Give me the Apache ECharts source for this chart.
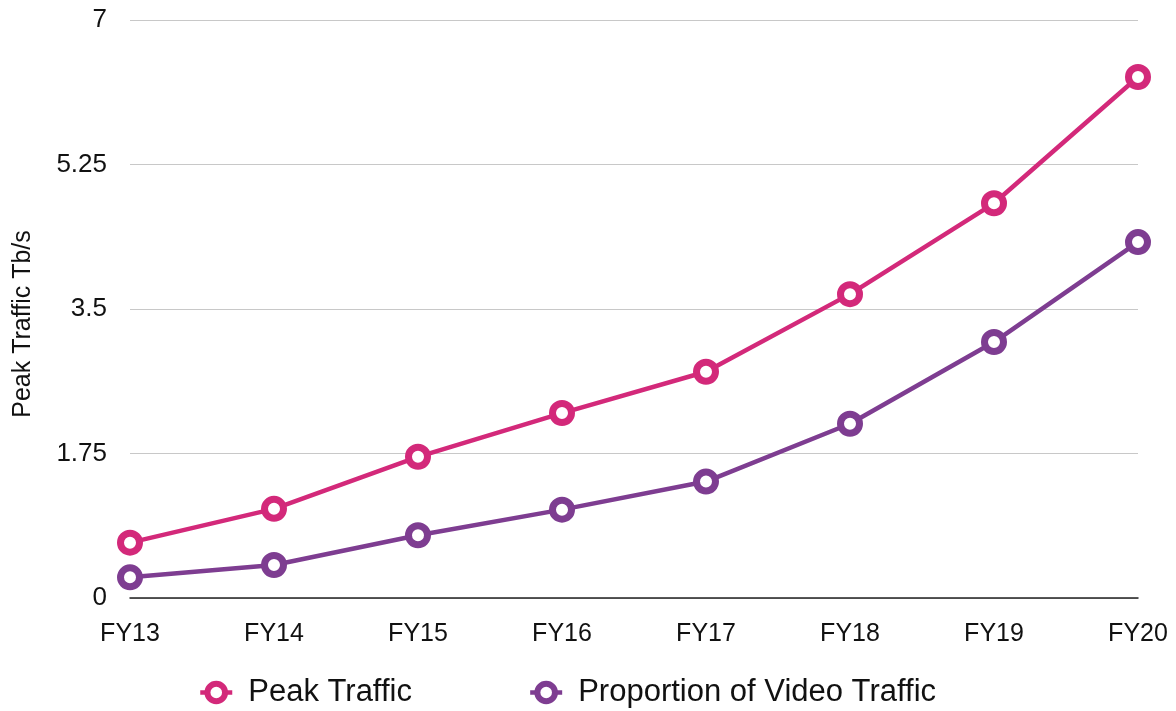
<!DOCTYPE html>
<html>
<head>
<meta charset="utf-8">
<script src="https://cdn.jsdelivr.net/npm/echarts@6/dist/echarts.min.js"></script>
<style>
  html, body { margin: 0; padding: 0; background: #ffffff; }
  #chart { width: 1176px; height: 711px; }
</style>
</head>
<body>
<div id="chart"></div>
<script>
// Fiscal years on the category axis
const years = ['FY13', 'FY14', 'FY15', 'FY16', 'FY17', 'FY18', 'FY19', 'FY20'];

// Peak traffic, Tb/s
const peakTraffic = [0.67, 1.08, 1.71, 2.24, 2.74, 3.68, 4.78, 6.31];

// Share of that peak carried as video, Tb/s
const videoTraffic = [0.25, 0.40, 0.76, 1.07, 1.41, 2.11, 3.10, 4.31];

const PINK = '#d3297a';
const PURPLE = '#7e3d91';
const FONT = '"Liberation Sans", Helvetica, Arial, sans-serif';

function lineSeries(name, data, color) {
  return {
    name: name,
    type: 'line',
    data: data,
    symbol: 'circle',
    symbolSize: 19,
    lineStyle: { width: 4.5, color: color },
    itemStyle: { color: '#ffffff', borderColor: color, borderWidth: 7 },
    emphasis: { disabled: true },
    z: 3
  };
}

const chart = echarts.init(document.getElementById('chart'), null, { renderer: 'canvas' });
chart.setOption({
  animation: false,
  backgroundColor: '#ffffff',
  textStyle: { fontFamily: FONT },
  grid: {
    left: 130, right: 38, top: 20, bottom: 113,
    containLabel: false,
    outerBoundsMode: 'none'
  },
  legend: {
    top: 672,
    left: 193,
    itemGap: 116,
    itemWidth: 32,
    itemHeight: 22,
    itemStyle: { borderWidth: 6 },
    lineStyle: { width: 4.5 },
    textStyle: { fontSize: 31, color: '#111111', fontFamily: FONT, padding: [0, 0, 0, 11] },
    data: ['Peak Traffic', 'Proportion of Video Traffic']
  },
  xAxis: {
    type: 'category',
    data: years,
    boundaryGap: false,
    axisLine: { lineStyle: { color: '#222222', width: 1.5 } },
    axisTick: { show: false },
    axisLabel: { fontSize: 25, color: '#111111', margin: 24, fontFamily: FONT }
  },
  yAxis: {
    type: 'value',
    min: 0,
    max: 7,
    interval: 1.75,
    name: 'Peak Traffic Tb/s',
    nameLocation: 'middle',
    nameGap: 94,
    nameRotate: 90,
    nameTextStyle: { fontSize: 25, color: '#111111', fontFamily: FONT, padding: [0, 30, 0, 0] },
    axisLine: { show: false },
    axisTick: { show: false },
    axisLabel: { fontSize: 26, color: '#111111', margin: 23, fontFamily: FONT },
    splitLine: { lineStyle: { color: '#c8c8c8', width: 1 } }
  },
  series: [
    lineSeries('Peak Traffic', peakTraffic, PINK),
    lineSeries('Proportion of Video Traffic', videoTraffic, PURPLE)
  ]
});
</script>
</body>
</html>
